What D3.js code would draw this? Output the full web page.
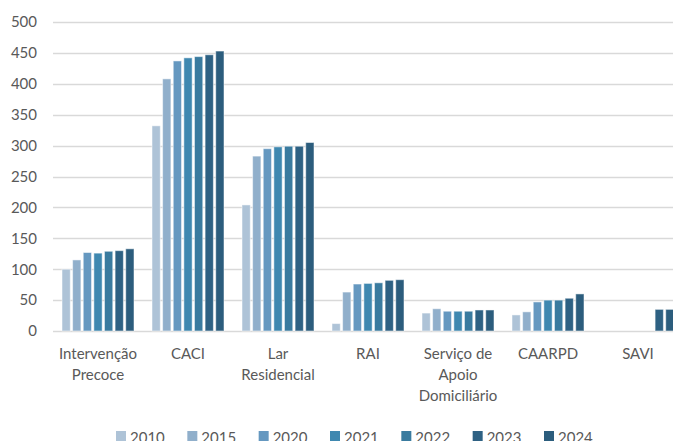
<!DOCTYPE html>
<html><head><meta charset="utf-8">
<script src="https://cdn.jsdelivr.net/npm/d3@7"></script>
<style>body{margin:0;background:#fff}svg{display:block}text{font-family:Lato,"Open Sans",sans-serif;fill:#595959}</style>
</head><body>
<svg id="c" width="673" height="441"></svg>
<script>
const categories = [["Intervenção","Precoce"],["CACI"],["Lar","Residencial"],["RAI"],["Serviço de","Apoio","Domiciliário"],["CAARPD"],["SAVI"]];
const years = ["2010","2015","2020","2021","2022","2023","2024"];
const s2010 = [100, 332, 204, 12, 29, 26, null];
const s2015 = [115, 408, 283, 63, 36, 31, null];
const s2020 = [127, 437, 295, 76, 32, 47, null];
const s2021 = [126, 442, 298, 77, 32, 50, null];
const s2022 = [129, 444, 299, 78, 32, 50, null];
const s2023 = [130, 447, 299, 82, 34, 53, 35];
const s2024 = [133, 453, 305, 83, 34, 60, 35];
const series = [s2010,s2015,s2020,s2021,s2022,s2023,s2024];
const colors = ["#aec3d7","#90afcb","#6598c0","#3f88b0","#3a7b9f","#2e6183","#2c5d7d"];
const yTicks = [0,50,100,150,200,250,300,350,400,450,500];

const svg = d3.select("#c");
const catIds = categories.map((c,i)=>i);
const x = d3.scaleBand().domain(catIds).range([53,683]).paddingInner(0.2).paddingOuter(0.1);
const xi = d3.scaleBand().domain(years).range([0,x.bandwidth()]).paddingInner(0.22).paddingOuter(0);
const y = d3.scaleLinear().domain([0,500]).range([331,22]);

// gridlines
svg.append("g").selectAll("line").data(yTicks).join("line")
  .attr("x1",53).attr("x2",673).attr("y1",d=>Math.round(y(d))+0.5).attr("y2",d=>Math.round(y(d))+0.5)
  .attr("stroke","#d9d9d9").attr("stroke-width",1.5);

// y axis labels
const yAxis = d3.axisLeft(y).tickValues(yTicks).tickSize(0).tickPadding(0);
const ga = svg.append("g").attr("transform","translate(37,0)").call(yAxis);
ga.select(".domain").remove();
ga.selectAll("text").attr("font-size",15).attr("fill","#595959").style("font-family","Lato,'Open Sans',sans-serif");

// bars
years.forEach((yr,k)=>{
  svg.append("g").selectAll("rect").data(series[k].map((v,i)=>({v,i})).filter(d=>d.v!=null)).join("rect")
    .attr("x",d=>x(d.i)+xi(yr)).attr("width",xi.bandwidth())
    .attr("y",d=>y(d.v)).attr("height",d=>y(0)-y(d.v))
    .attr("fill",colors[k]).attr("stroke","#ffffff").attr("stroke-opacity",0.5).attr("stroke-width",1);
});

// category labels
const cl = svg.append("g");
categories.forEach((lines,i)=>{
  const t = cl.append("text").attr("text-anchor","middle").attr("font-size",15);
  lines.forEach((ln,j)=>{
    t.append("tspan").attr("x",x(i)+x.bandwidth()/2).attr("y",359+j*21).text(ln);
  });
});

// legend
const lg = svg.append("g");
const legX = d3.scalePoint().domain(years).range([116,544]);
years.forEach((yr,k)=>{
  lg.append("rect").attr("x",legX(yr)).attr("y",431).attr("width",10).attr("height",10).attr("fill",colors[k]);
  lg.append("text").attr("x",legX(yr)+14).attr("y",443).attr("font-size",15).text(yr);
});
</script>
</body></html>
